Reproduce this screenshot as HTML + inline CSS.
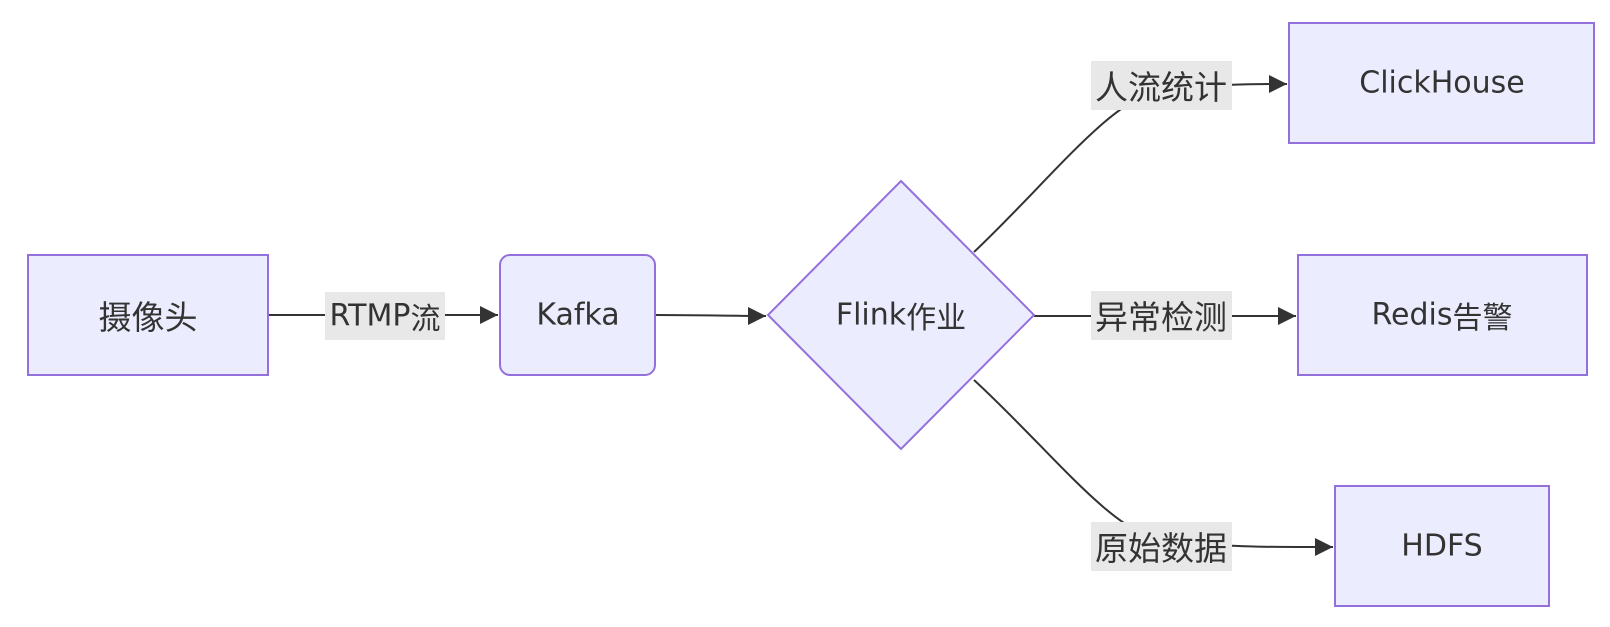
<!DOCTYPE html>
<html><head><meta charset="utf-8"><style>
body{margin:0;background:#fff;width:1610px;height:622px;overflow:hidden}
svg text{font-family:"DejaVu Sans","Noto Sans CJK SC",sans-serif;font-size:30px;fill:#333;text-anchor:middle;dominant-baseline:central}
svg text.c{font-family:"Noto Sans CJK SC",sans-serif;font-size:33px}
</style></head><body>
<svg width="1610" height="622" viewBox="0 0 1610 622">
<defs><marker id="b" viewBox="0 0 10 10" refX="10" refY="5" markerWidth="18" markerHeight="18" markerUnits="userSpaceOnUse" orient="auto"><path d="M0,0L10,5L0,10z" fill="#333"/></marker></defs>
<g stroke="#333" stroke-width="2" fill="none">
<path d="M268,315H498" marker-end="url(#b)"/>
<path d="M655,315C700,315 730,316 766,316" marker-end="url(#b)"/>
<path d="M974,252C1050,180 1110,100 1160,90C1220,84 1250,84 1287,84" marker-end="url(#b)"/>
<path d="M1034,316H1296" marker-end="url(#b)"/>
<path d="M974,380C1050,450 1110,530 1160,540C1230,548 1280,547 1333,547" marker-end="url(#b)"/>
</g>
<g fill="#ececff" stroke="#9370db" stroke-width="2">
<rect x="28" y="255" width="240" height="120"/>
<rect x="500" y="255" width="155" height="120" rx="10"/>
<polygon points="901,181 1034,315 901,449 768,315"/>
<rect x="1289" y="23" width="305" height="120"/>
<rect x="1298" y="255" width="289" height="120"/>
<rect x="1335" y="486" width="214" height="120"/>
</g>
<g fill="#e8e8e8">
<rect x="325" y="292" width="120" height="48"/>
<rect x="1091" y="61" width="141" height="49"/>
<rect x="1091" y="291" width="141" height="49"/>
<rect x="1091" y="522" width="141" height="49"/>
</g>
<text class="c" x="148" y="315">摄像头</text>
<text x="578" y="315">Kafka</text>
<text x="901" y="315">Flink<tspan font-family="Noto Sans CJK SC">作业</tspan></text>
<text x="1442" y="83">ClickHouse</text>
<text x="1442" y="315">Redis<tspan font-family="Noto Sans CJK SC">告警</tspan></text>
<text x="1442" y="546">HDFS</text>
<text x="385" y="316">RTMP<tspan font-family="Noto Sans CJK SC">流</tspan></text>
<text class="c" x="1161" y="85">人流统计</text>
<text class="c" x="1161" y="315">异常检测</text>
<text class="c" x="1161" y="546">原始数据</text>
</svg>
</body></html>
